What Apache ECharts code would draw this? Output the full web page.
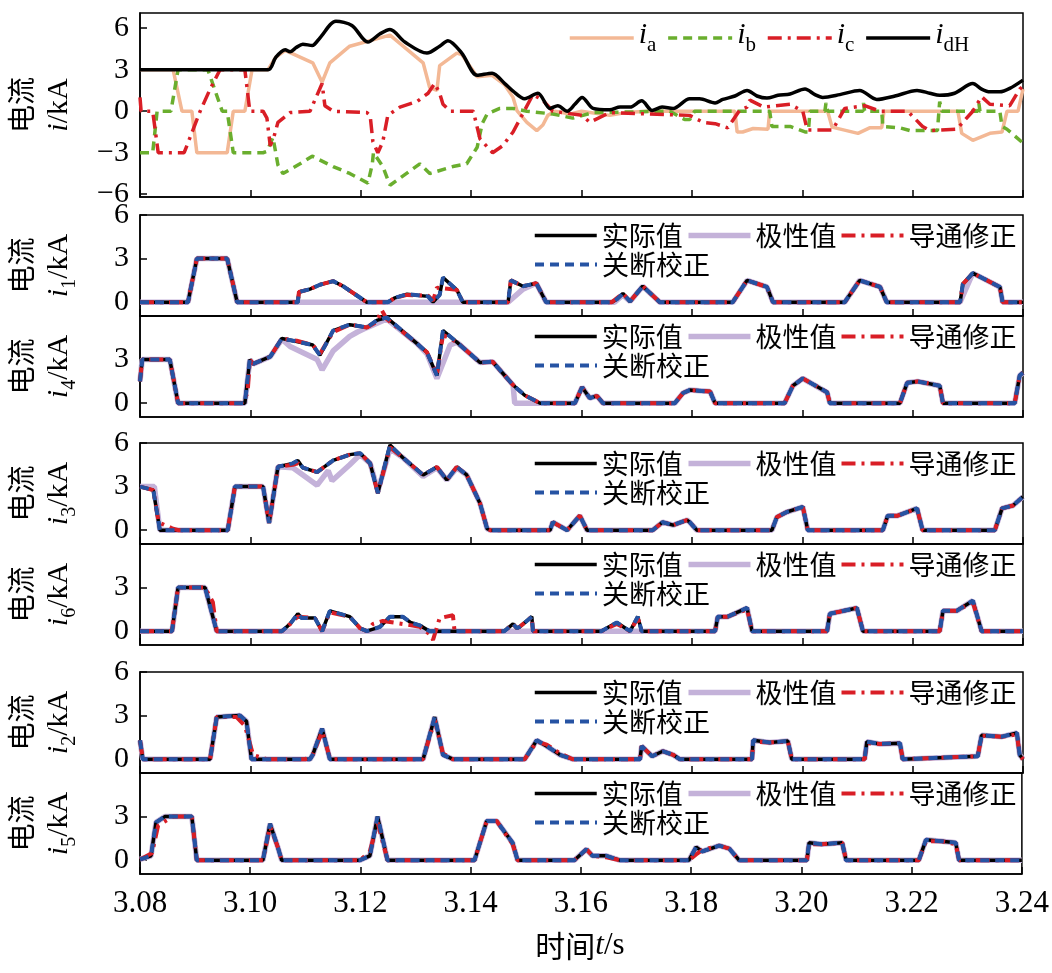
<!DOCTYPE html>
<html><head><meta charset="utf-8">
<script src="https://cdn.jsdelivr.net/npm/echarts@6/dist/echarts.min.js"></script>
<style>html,body{margin:0;padding:0;background:#fff}#c{width:1052px;height:973px}</style>
</head><body><div id="c"></div>
<script>
// ---------- DATA (time in s, current in kA) ----------
const timeTicks = [3.08,3.10,3.12,3.14,3.16,3.18,3.20,3.22,3.24];
const topTicks = [-6,-3,0,3,6];
const subTicks = [0,3,6];

const ia = [[3.0800,3.0],[3.0860,3.0],[3.0876,0],[3.0894,0],[3.0903,-3.0],[3.0958,-3.0],[3.0969,0],[3.0990,0],[3.1003,3.0],[3.1032,3.0],[3.1046,3.9],[3.1063,4.4],[3.1113,3.5],[3.1130,2.1],[3.1144,3.5],[3.1180,4.7],[3.1253,5.5],[3.1313,3.5],[3.1325,1.7],[3.1338,1.5],[3.1343,3.3],[3.1374,4.2],[3.1383,4.1],[3.1411,2.5],[3.1438,2.6],[3.1461,1.9],[3.1476,1.0],[3.1483,0.05],[3.1501,-0.8],[3.1519,-1.4],[3.1530,-1.0],[3.1539,-0.3],[3.1552,0],[3.1580,-0.2],[3.1600,0],[3.1651,-0.3],[3.1680,-0.1],[3.1720,0],[3.1878,0],[3.1882,-1.5],[3.1892,-1.5],[3.1911,-1.25],[3.1938,-1.3],[3.1941,0],[3.2046,0],[3.2054,-1.15],[3.2101,-1.6],[3.2122,-1.2],[3.2144,-1.2],[3.2148,0],[3.2282,0],[3.2289,-1.6],[3.2309,-2.1],[3.2340,-1.6],[3.2362,-1.5],[3.2371,0],[3.2391,0],[3.2400,1.6]];
const ib = [[3.0800,-3.0],[3.0823,-3.0],[3.0831,0],[3.0856,0],[3.0869,3.0],[3.0923,3.0],[3.0949,0],[3.0958,0],[3.0969,-3.0],[3.1023,-3.0],[3.1030,-2.9],[3.1041,-1.9],[3.1050,-3.9],[3.1059,-4.5],[3.1090,-3.8],[3.1112,-3.25],[3.1150,-4.0],[3.1180,-4.5],[3.1213,-5.2],[3.1221,-3.8],[3.1223,-3.0],[3.1240,-4.0],[3.1253,-5.35],[3.1307,-3.8],[3.1325,-4.5],[3.1367,-4.0],[3.1392,-3.8],[3.1411,-2.6],[3.1420,-0.9],[3.1429,-0.2],[3.1452,0.2],[3.1476,0.2],[3.1501,0],[3.1548,-0.2],[3.1584,-0.5],[3.1621,-0.1],[3.1760,0],[3.1787,-0.6],[3.1796,-0.6],[3.1805,0],[3.1941,0],[3.1945,-1.1],[3.1978,-1.1],[3.2005,-1.5],[3.2011,-1.5],[3.2014,0],[3.2041,0],[3.2043,0.6],[3.2046,0],[3.2110,0],[3.2111,0.6],[3.2113,0],[3.2144,0],[3.2146,-1.1],[3.2177,-1.2],[3.2195,-1.4],[3.2245,-1.4],[3.2249,0.7],[3.2253,0],[3.2318,0],[3.2320,0.6],[3.2322,0],[3.2358,0],[3.2362,-1.1],[3.2371,-1.3],[3.2400,-2.3]];
const ic = [[3.0800,1.0],[3.0802,0],[3.0823,0],[3.0833,-3.0],[3.0880,-3.0],[3.0909,0],[3.0927,1.6],[3.0945,3.0],[3.0990,3.0],[3.0999,0],[3.1023,0],[3.1030,-0.5],[3.1036,-2.5],[3.1043,-1.8],[3.1050,-0.8],[3.1072,-0.1],[3.1108,0],[3.1130,2.0],[3.1135,0.4],[3.1150,0],[3.1211,-0.1],[3.1217,-0.3],[3.1222,-2.2],[3.1231,-3.0],[3.1240,-2.2],[3.1249,-0.3],[3.1271,0.3],[3.1302,0.7],[3.1322,1.3],[3.1334,2.0],[3.1343,1.3],[3.1349,0.5],[3.1362,0],[3.1404,0],[3.1416,-2.0],[3.1439,-3.0],[3.1457,-2.5],[3.1476,-1.5],[3.1512,1.2],[3.1530,0.8],[3.1548,0],[3.1601,-0.3],[3.1615,-0.8],[3.1651,-0.1],[3.1796,-0.3],[3.1820,-0.8],[3.1842,-0.9],[3.1865,-1.2],[3.1887,0.1],[3.1900,0.3],[3.1905,0.8],[3.1930,0.3],[3.1978,0.5],[3.2001,0],[3.2009,-1.35],[3.2055,-1.35],[3.2077,0.2],[3.2113,0.4],[3.2141,0],[3.2191,0],[3.2218,-1.1],[3.2231,-1.4],[3.2280,-1.3],[3.2309,0],[3.2325,1.05],[3.2340,0.5],[3.2376,0.4],[3.2394,1.6],[3.2400,1.8]];
const idH = [[3.0800,3.0],[3.1032,3.0],[3.1046,3.9],[3.1063,4.45],[3.1072,4.3],[3.1083,4.6],[3.1095,4.85],[3.1112,4.75],[3.1126,5.3],[3.1155,6.5],[3.1184,6.2],[3.1213,5.0],[3.1235,5.6],[3.1253,5.9],[3.1280,5.0],[3.1320,4.2],[3.1343,4.7],[3.1358,5.1],[3.1383,4.2],[3.1411,2.6],[3.1438,2.75],[3.1461,2.0],[3.1476,1.45],[3.1497,0.9],[3.1521,1.3],[3.1543,0.2],[3.1557,0.4],[3.1574,0.0],[3.1588,0.5],[3.1601,1.0],[3.1621,0.2],[3.1651,0.1],[3.1670,0.3],[3.1688,0.3],[3.1709,0.75],[3.1728,0.05],[3.1746,0.3],[3.1766,0.2],[3.1796,0.9],[3.1814,0.9],[3.1842,0.6],[3.1856,0.85],[3.1878,1.1],[3.1900,1.5],[3.1918,1.1],[3.1936,0.95],[3.1956,1.15],[3.1978,1.25],[3.2005,1.6],[3.2023,1.2],[3.2037,1.0],[3.2068,1.2],[3.2104,1.5],[3.2135,0.85],[3.2168,1.1],[3.2208,1.5],[3.2231,1.3],[3.2249,1.15],[3.2276,1.3],[3.2309,2.0],[3.2325,1.6],[3.2340,1.4],[3.2358,1.4],[3.2376,1.65],[3.2400,2.25]];

const i1_real = [[3.0800,0],[3.0887,0],[3.0903,3.0],[3.0958,3.0],[3.0976,0],[3.1086,0],[3.1088,0.7],[3.1108,0.9],[3.1126,1.2],[3.1150,1.45],[3.1168,1.1],[3.1211,0],[3.1249,0],[3.1262,0.3],[3.1284,0.55],[3.1322,0.4],[3.1331,0],[3.1343,0.5],[3.1349,1.7],[3.1374,0.85],[3.1385,0],[3.1467,0],[3.1472,1.5],[3.1494,1.1],[3.1518,1.3],[3.1536,0],[3.1655,0],[3.1664,0.2],[3.1675,0.6],[3.1688,0.05],[3.1711,1.1],[3.1742,0],[3.1874,0],[3.1900,1.5],[3.1936,1.05],[3.1947,0],[3.2077,0],[3.2104,1.5],[3.2141,1.05],[3.2153,0],[3.2286,0],[3.2291,1.25],[3.2309,2.0],[3.2358,1.05],[3.2363,0],[3.2400,0]];
const i1_polar = [[3.0800,0],[3.0887,0],[3.0903,3.0],[3.0958,3.0],[3.0976,0],[3.1467,0],[3.1494,0.9],[3.1518,1.3],[3.1536,0],[3.1660,0],[3.1675,0.5],[3.1688,0.05],[3.1711,1.1],[3.1742,0],[3.1874,0],[3.1900,1.5],[3.1936,1.05],[3.1947,0],[3.2077,0],[3.2104,1.5],[3.2141,1.05],[3.2153,0],[3.2286,0],[3.2309,2.0],[3.2358,1.05],[3.2363,0],[3.2400,0]];
const i1_cond = [[3.0800,0],[3.0887,0],[3.0903,3.0],[3.0958,3.0],[3.0976,0],[3.1086,0],[3.1088,0.7],[3.1108,0.9],[3.1126,1.2],[3.1150,1.45],[3.1168,1.1],[3.1211,0],[3.1249,0],[3.1262,0.3],[3.1284,0.5],[3.1322,0.45],[3.1331,0.1],[3.1338,1.0],[3.1374,0.85],[3.1385,0],[3.1467,0],[3.1472,1.5],[3.1494,1.1],[3.1518,1.3],[3.1536,0],[3.1655,0],[3.1675,0.6],[3.1688,0.05],[3.1711,1.1],[3.1742,0],[3.1874,0],[3.1900,1.5],[3.1936,1.05],[3.1947,0],[3.2077,0],[3.2104,1.5],[3.2141,1.05],[3.2153,0],[3.2286,0],[3.2291,1.25],[3.2309,2.0],[3.2358,1.05],[3.2363,0],[3.2400,0]];
const i1_off = i1_real;

const i4_real = [[3.0800,1.5],[3.0804,3.0],[3.0854,3.0],[3.0869,0],[3.0990,0],[3.0999,3.0],[3.1005,2.7],[3.1036,3.2],[3.1057,4.45],[3.1084,4.25],[3.1113,4.0],[3.1126,3.3],[3.1150,5.0],[3.1180,5.4],[3.1199,5.3],[3.1211,5.2],[3.1229,5.7],[3.1247,5.9],[3.1302,4.1],[3.1320,3.5],[3.1338,1.9],[3.1349,5.0],[3.1374,4.2],[3.1416,2.8],[3.1439,2.85],[3.1476,1.25],[3.1497,0.55],[3.1525,0],[3.1588,0],[3.1601,1.1],[3.1615,0.35],[3.1628,0.5],[3.1639,0],[3.1769,0],[3.1784,0.7],[3.1796,0.9],[3.1833,0.8],[3.1842,0],[3.1968,0],[3.1983,1.2],[3.2001,1.7],[3.2045,0.75],[3.2050,0],[3.2177,0],[3.2190,1.4],[3.2209,1.5],[3.2249,1.2],[3.2255,0],[3.2385,0],[3.2394,1.9],[3.2400,2.1]];
const i4_polar = [[3.0800,1.5],[3.0804,3.0],[3.0854,3.0],[3.0869,0],[3.0990,0],[3.0999,3.0],[3.1005,2.7],[3.1036,3.2],[3.1057,4.4],[3.1072,3.9],[3.1121,3.0],[3.1130,2.3],[3.1150,3.6],[3.1180,4.6],[3.1194,4.9],[3.1211,5.2],[3.1247,5.8],[3.1302,4.1],[3.1320,3.4],[3.1338,1.7],[3.1362,4.0],[3.1374,4.2],[3.1416,2.8],[3.1439,2.85],[3.1476,1.25],[3.1479,0],[3.1588,0],[3.1601,1.1],[3.1615,0.35],[3.1628,0.5],[3.1639,0],[3.1769,0],[3.1784,0.7],[3.1796,0.9],[3.1833,0.8],[3.1842,0],[3.1968,0],[3.1983,1.2],[3.2001,1.7],[3.2045,0.75],[3.2050,0],[3.2177,0],[3.2190,1.4],[3.2209,1.5],[3.2249,1.2],[3.2255,0],[3.2385,0],[3.2394,1.9],[3.2400,2.1]];
const i4_cond = [[3.0800,1.5],[3.0804,3.0],[3.0854,3.0],[3.0869,0],[3.0984,0],[3.0995,0.7],[3.0999,3.0],[3.1005,2.7],[3.1036,3.2],[3.1057,4.45],[3.1084,4.3],[3.1113,4.0],[3.1126,3.4],[3.1150,4.9],[3.1180,5.4],[3.1199,5.3],[3.1211,5.2],[3.1229,5.6],[3.1238,6.4],[3.1247,5.8],[3.1302,4.1],[3.1320,3.5],[3.1338,2.0],[3.1349,4.7],[3.1374,4.2],[3.1416,2.8],[3.1439,2.85],[3.1476,1.25],[3.1497,0.55],[3.1525,0],[3.1588,0],[3.1601,1.1],[3.1615,0.35],[3.1628,0.5],[3.1639,0],[3.1769,0],[3.1784,0.7],[3.1796,0.9],[3.1833,0.8],[3.1842,0],[3.1968,0],[3.1983,1.2],[3.2001,1.7],[3.2045,0.75],[3.2050,0],[3.2177,0],[3.2190,1.4],[3.2209,1.5],[3.2249,1.2],[3.2255,0],[3.2385,0],[3.2394,1.9],[3.2400,2.1]];
const i4_off = i4_real;

const i3_real = [[3.0800,3.0],[3.0824,2.76],[3.0833,0.7],[3.0836,0],[3.0959,0],[3.0972,3.0],[3.1023,3.0],[3.1034,0.5],[3.1050,4.37],[3.1077,4.6],[3.1086,4.8],[3.1095,4.3],[3.1121,4.0],[3.1150,4.8],[3.1180,5.2],[3.1199,5.3],[3.1217,4.6],[3.1231,2.55],[3.1253,5.86],[3.1276,5.0],[3.1313,3.8],[3.1338,4.35],[3.1356,3.45],[3.1374,4.35],[3.1392,3.8],[3.1416,1.86],[3.1429,0.1],[3.1435,0],[3.1543,0],[3.1548,0.55],[3.1574,0],[3.1597,1.0],[3.1610,0],[3.1729,0],[3.1747,0.55],[3.1766,0.35],[3.1791,0.7],[3.1796,0.55],[3.1809,0],[3.1945,0],[3.1954,0.9],[3.1972,1.25],[3.2001,1.6],[3.2010,0],[3.2146,0],[3.2155,1.0],[3.2173,1.0],[3.2208,1.5],[3.2218,0],[3.2349,0],[3.2362,1.5],[3.2382,1.7],[3.2400,2.3]];
const i3_polar = [[3.0800,3.0],[3.0826,3.0],[3.0836,0],[3.0959,0],[3.0972,3.0],[3.1023,3.0],[3.1034,0.5],[3.1050,4.37],[3.1077,4.3],[3.1121,3.1],[3.1141,4.1],[3.1148,3.4],[3.1180,4.5],[3.1199,5.2],[3.1217,4.6],[3.1231,2.7],[3.1253,5.6],[3.1276,5.0],[3.1313,3.7],[3.1338,4.3],[3.1356,3.45],[3.1374,4.3],[3.1392,3.8],[3.1416,1.86],[3.1429,0.1],[3.1435,0],[3.1543,0],[3.1548,0.55],[3.1574,0],[3.1597,1.0],[3.1610,0],[3.1729,0],[3.1747,0.55],[3.1766,0.35],[3.1791,0.7],[3.1796,0.55],[3.1809,0],[3.1945,0],[3.1954,0.9],[3.1972,1.25],[3.2001,1.6],[3.2010,0],[3.2146,0],[3.2155,1.0],[3.2173,1.0],[3.2208,1.5],[3.2218,0],[3.2349,0],[3.2362,1.5],[3.2382,1.7],[3.2400,2.3]];
const i3_cond = [[3.0800,3.0],[3.0824,2.76],[3.0833,0.7],[3.0836,0.5],[3.0860,0.1],[3.0870,0],[3.0959,0],[3.0972,3.0],[3.1023,3.0],[3.1034,0.5],[3.1050,4.37],[3.1077,4.5],[3.1086,4.6],[3.1095,4.3],[3.1121,4.0],[3.1150,4.8],[3.1180,5.2],[3.1199,5.3],[3.1217,4.6],[3.1231,2.55],[3.1253,5.7],[3.1276,5.0],[3.1313,3.8],[3.1338,4.35],[3.1356,3.45],[3.1374,4.35],[3.1392,3.8],[3.1416,1.86],[3.1429,0.1],[3.1435,0],[3.1543,0],[3.1548,0.55],[3.1574,0],[3.1597,1.0],[3.1610,0],[3.1729,0],[3.1747,0.55],[3.1766,0.35],[3.1791,0.7],[3.1796,0.55],[3.1809,0],[3.1945,0],[3.1954,0.9],[3.1972,1.25],[3.2001,1.6],[3.2010,0],[3.2146,0],[3.2155,1.0],[3.2173,1.0],[3.2208,1.5],[3.2218,0],[3.2349,0],[3.2362,1.5],[3.2382,1.7],[3.2400,2.3]];
const i3_off = i3_real;

const i6_real = [[3.0800,0],[3.0858,0],[3.0869,3.0],[3.0918,3.0],[3.0939,0],[3.1057,0],[3.1072,0.5],[3.1086,1.2],[3.1093,0.9],[3.1117,0.9],[3.1130,0],[3.1144,1.4],[3.1180,1.0],[3.1199,0.2],[3.1211,0],[3.1235,0.3],[3.1253,1.0],[3.1276,1.0],[3.1290,0.6],[3.1307,0.4],[3.1325,0],[3.1460,0],[3.1476,0.5],[3.1483,0.2],[3.1488,0.3],[3.1510,1.0],[3.1512,0],[3.1636,0],[3.1650,0.3],[3.1664,0.6],[3.1688,0],[3.1702,1.0],[3.1709,0],[3.1842,0],[3.1847,1.0],[3.1865,1.0],[3.1900,1.6],[3.1909,0],[3.2045,0],[3.2050,1.2],[3.2099,1.6],[3.2110,0],[3.2249,0],[3.2255,1.4],[3.2280,1.4],[3.2309,2.1],[3.2325,0],[3.2400,0]];
const i6_polar = [[3.0800,0],[3.0858,0],[3.0869,3.0],[3.0918,3.0],[3.0939,0],[3.1842,0],[3.1847,1.0],[3.1865,1.0],[3.1900,1.6],[3.1909,0],[3.2045,0],[3.2050,1.2],[3.2099,1.6],[3.2110,0],[3.2249,0],[3.2255,1.4],[3.2280,1.4],[3.2309,2.1],[3.2325,0],[3.2400,0]];
const i6_cond = [[3.0800,0],[3.0858,0],[3.0869,3.0],[3.0918,3.0],[3.0932,2.0],[3.0939,0],[3.1057,0],[3.1072,0.5],[3.1086,1.0],[3.1117,0.9],[3.1130,0],[3.1144,1.3],[3.1180,1.0],[3.1199,0.2],[3.1211,0],[3.1222,0.5],[3.1240,0.7],[3.1276,0.5],[3.1307,0.3],[3.1325,-0.2],[3.1331,-0.6],[3.1343,0.9],[3.1367,1.1],[3.1370,0],[3.1460,0],[3.1476,0.5],[3.1483,0.2],[3.1488,0.3],[3.1510,1.0],[3.1512,0],[3.1636,0],[3.1664,0.5],[3.1688,0],[3.1702,0.9],[3.1709,0],[3.1842,0],[3.1847,1.0],[3.1865,1.0],[3.1900,1.5],[3.1909,0],[3.2045,0],[3.2050,1.2],[3.2099,1.6],[3.2110,0],[3.2249,0],[3.2255,1.4],[3.2280,1.4],[3.2309,2.0],[3.2325,0],[3.2400,0]];
const i6_off = i6_real;

const i2_real = [[3.0800,1.3],[3.0805,0],[3.0927,0],[3.0939,2.9],[3.0981,3.0],[3.0993,2.6],[3.1002,0],[3.1108,0],[3.1113,0.3],[3.1130,2.1],[3.1144,0],[3.1313,0],[3.1334,2.9],[3.1349,0.3],[3.1367,0],[3.1497,0],[3.1519,1.3],[3.1537,0.9],[3.1561,0.3],[3.1584,0],[3.1706,0],[3.1709,0.9],[3.1728,0.2],[3.1747,0.55],[3.1766,0.3],[3.1778,0],[3.1909,0],[3.1911,1.3],[3.1941,1.15],[3.1974,1.25],[3.1981,0],[3.2113,0],[3.2117,1.2],[3.2141,1.05],[3.2177,1.1],[3.2182,0],[3.2318,0.2],[3.2325,1.65],[3.2362,1.55],[3.2389,1.8],[3.2394,0.3],[3.2400,0]];
const i2_polar = i2_real;
const i2_cond = [[3.0800,1.3],[3.0805,0],[3.0927,0],[3.0939,2.9],[3.0975,2.9],[3.0990,2.3],[3.1005,0.3],[3.1020,0.1],[3.1030,0],[3.1100,0],[3.1113,0.3],[3.1130,1.9],[3.1144,0.1],[3.1150,0],[3.1313,0],[3.1334,2.7],[3.1349,0.4],[3.1367,0],[3.1497,0],[3.1519,1.2],[3.1537,1.0],[3.1561,0.4],[3.1584,0],[3.1706,0],[3.1709,0.9],[3.1728,0.2],[3.1747,0.55],[3.1766,0.3],[3.1778,0],[3.1909,0],[3.1911,1.2],[3.1941,1.15],[3.1974,1.2],[3.1981,0],[3.2113,0],[3.2117,1.1],[3.2141,1.05],[3.2177,1.1],[3.2182,0],[3.2318,0.2],[3.2325,1.6],[3.2362,1.55],[3.2389,1.7],[3.2394,0.3],[3.2400,0]];
const i2_off = i2_real;

const i5_real = [[3.0800,0.05],[3.0820,0.3],[3.0829,2.6],[3.0845,3.0],[3.0894,3.0],[3.0903,0],[3.1023,0],[3.1036,2.5],[3.1050,0.9],[3.1057,0],[3.1199,0],[3.1217,0.3],[3.1231,3.0],[3.1249,0],[3.1407,0],[3.1429,2.7],[3.1447,2.7],[3.1476,1.2],[3.1485,0],[3.1588,0],[3.1610,0.75],[3.1621,0.3],[3.1646,0.3],[3.1670,0],[3.1796,0],[3.1809,0.9],[3.1820,0.6],[3.1851,1.0],[3.1869,0.8],[3.1887,0],[3.2010,0],[3.2014,1.2],[3.2037,1.1],[3.2074,1.2],[3.2081,0],[3.2213,0],[3.2226,1.4],[3.2255,1.3],[3.2280,1.2],[3.2286,0],[3.2400,0]];
const i5_polar = i5_real;
const i5_cond = [[3.0800,0.05],[3.0822,0.5],[3.0833,2.4],[3.0860,3.0],[3.0894,3.0],[3.0903,0],[3.1023,0],[3.1036,2.3],[3.1050,0.9],[3.1057,0],[3.1199,0],[3.1217,0.6],[3.1231,2.6],[3.1249,0],[3.1407,0],[3.1429,2.7],[3.1447,2.7],[3.1476,1.1],[3.1485,0],[3.1588,0],[3.1610,0.75],[3.1621,0.3],[3.1646,0.2],[3.1670,0],[3.1796,0],[3.1809,0.4],[3.1820,0.7],[3.1851,1.0],[3.1869,0.8],[3.1887,0],[3.2010,0],[3.2014,1.1],[3.2037,1.1],[3.2074,1.2],[3.2081,0],[3.2213,0],[3.2226,1.3],[3.2255,1.3],[3.2280,1.1],[3.2286,0],[3.2400,0]];
const i5_off = i5_real;

const subplots = [
  {sub:'1', real:i1_real, polar:i1_polar, cond:i1_cond, off:i1_off, show6:true},
  {sub:'4', real:i4_real, polar:i4_polar, cond:i4_cond, off:i4_off, show6:false},
  {sub:'3', real:i3_real, polar:i3_polar, cond:i3_cond, off:i3_off, show6:true},
  {sub:'6', real:i6_real, polar:i6_polar, cond:i6_cond, off:i6_off, show6:false},
  {sub:'2', real:i2_real, polar:i2_polar, cond:i2_cond, off:i2_off, show6:true},
  {sub:'5', real:i5_real, polar:i5_polar, cond:i5_cond, off:i5_off, show6:false}
];

// ---------- LAYOUT / STYLE ----------
const SERIF = 'Liberation Serif';
const CJK = 'Noto Sans CJK SC';
const gridPos = [{top:13,height:184},{top:215,height:101},{top:316,height:101},{top:443,height:101},{top:544,height:101},{top:672,height:101},{top:773,height:101}];
const C = {black:'#000000', purple:'#C4B2D9', red:'#D91E26', blue:'#2653A3', salmon:'#F3B895', green:'#6AAE2E'};
const minus = v => v < 0 ? '\u2212' + Math.abs(v) : String(v);

const grid = [], xAxis = [], yAxis = [], series = [], legend = [], graphic = [];
gridPos.forEach((g, k) => {
  grid.push({left:140, right:29, top:g.top, height:g.height, show:true, borderColor:'#000', borderWidth:1.5, backgroundColor:'transparent'});
  xAxis.push({type:'value', gridIndex:k, min:3.08, max:3.24, interval:0.02,
    axisLine:{show:true, onZero:false, lineStyle:{color:'#000', width:1.5}},
    axisTick:{show:true, inside:true, length:7, lineStyle:{color:'#000', width:1.5}},
    axisLabel:{show:k===6, margin:14, color:'#000', fontSize:31, fontFamily:SERIF, formatter:v=>v.toFixed(2)},
    splitLine:{show:false}});
  const isTop = k === 0;
  const ticks = isTop ? topTicks : subTicks;
  const labels = isTop ? topTicks : (subplots[k-1].show6 ? subTicks : [0,3]);
  yAxis.push({type:'value', gridIndex:k, min:isTop?-6.2:-0.95, max:isTop?7.1:6,
    axisLine:{show:true, onZero:false, lineStyle:{color:'#000', width:1.5}},
    axisTick:{show:true, inside:true, length:7, customValues:ticks, lineStyle:{color:'#000', width:1.5}},
    axisLabel:{show:true, customValues:labels, margin:11, color:'#000', fontSize:30, fontFamily:SERIF, formatter:minus},
    splitLine:{show:false}});
  const cy = g.top + g.height/2;
  graphic.push({type:'text', x:21, y:cy, rotation:Math.PI/2, style:{text:'电流', font:'28px "'+CJK+'"', fill:'#000', align:'center', verticalAlign:'middle'}});
  const nm = isTop ? '{i|i}{n|/kA}' : '{i|i}{s|' + subplots[k-1].sub + '}{n|/kA}';
  graphic.push({type:'text', x:62, y:cy, rotation:Math.PI/2, style:{text:nm, fill:'#000', align:'center', verticalAlign:'middle',
    rich:{i:{fontFamily:SERIF, fontStyle:'italic', fontSize:30, verticalAlign:'top', lineHeight:36}, n:{fontFamily:SERIF, fontSize:30, verticalAlign:'top', lineHeight:36}, s:{fontFamily:SERIF, fontSize:20, verticalAlign:'bottom', lineHeight:20}}}});
});

function line(name, data, k, color, width, type, z, extra) {
  return Object.assign({type:'line', name, data, xAxisIndex:k, yAxisIndex:k, symbol:'none', showSymbol:false, z,
    lineStyle:{color, width, type, cap:'butt'}, itemStyle:{color}, emphasis:{disabled:true}, silent:true}, extra || {});
}
const DASH = [9,6], DASHDOT = [14,6,3,6];
series.push(line('ia', ia, 0, C.salmon, 3.5, 'solid', 2));
series.push(line('ib', ib, 0, C.green, 3.5, DASH, 3));
series.push(line('ic', ic, 0, C.red, 3.5, DASHDOT, 4));
series.push(line('idH', idH, 0, C.black, 3.5, 'solid', 5, {smooth:0.3}));
subplots.forEach((s, j) => {
  const k = j + 1;
  series.push(line('极性值', s.polar, k, C.purple, 5.5, 'solid', 2));
  series.push(line('实际值', s.real, k, C.black, 3.5, 'solid', 3));
  series.push(line('导通修正', s.cond, k, C.red, 4, DASHDOT, 4, {clip:false}));
  series.push(line('关断校正', s.off, k, C.blue, 4, DASH, 5));
  const t = gridPos[k].top;
  const ts = {fontSize:27, fontFamily:CJK, color:'#000'};
  const common = {left:533, itemWidth:62, itemHeight:14, itemGap:3, selectedMode:false, textStyle:ts, padding:0,
    itemStyle:{opacity:0}, lineStyle:{width:'inherit'}};
  legend.push(Object.assign({data:['实际值','极性值','导通修正'], top:t+7}, common));
  legend.push(Object.assign({data:['关断校正'], top:t+36}, common));
});
const subMap = {ia:'a', ib:'b', ic:'c', idH:'dH'};
legend.push({data:['ia','ib','ic','idH'], left:568, top:20, itemWidth:64, itemHeight:14, itemGap:10, selectedMode:false, padding:0,
  itemStyle:{opacity:0}, lineStyle:{width:'inherit'},
  formatter:n => '{i|i}{s|' + subMap[n] + '}',
  textStyle:{color:'#000', rich:{i:{fontFamily:SERIF, fontStyle:'italic', fontSize:30, verticalAlign:'top', lineHeight:36, color:'#000'}, s:{fontFamily:SERIF, fontSize:21, verticalAlign:'bottom', lineHeight:20, color:'#000'}}}});

graphic.push({type:'text', x:580, y:946, style:{text:'{c|时间}{i|t}{n|/s}', fill:'#000', align:'center', verticalAlign:'middle',
  rich:{c:{fontFamily:CJK, fontSize:30}, i:{fontFamily:SERIF, fontStyle:'italic', fontSize:31}, n:{fontFamily:SERIF, fontSize:31}}}});

const chart = echarts.init(document.getElementById('c'), null, {renderer:'canvas'});
chart.setOption({animation:false, backgroundColor:'#fff', grid, xAxis, yAxis, series, legend, graphic});
</script></body></html>
